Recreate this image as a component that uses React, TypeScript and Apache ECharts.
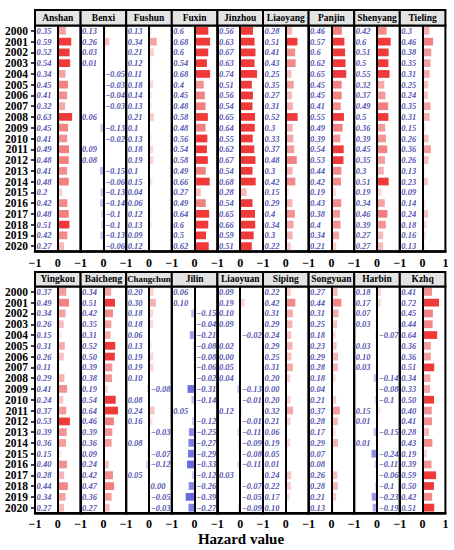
import { useEffect, useRef } from 'react';
import * as echarts from 'echarts';

const years = [
  '2000', '2001', '2002', '2003', '2004', '2005', '2006', '2007', '2008', '2009', '2010',
  '2011', '2012', '2013', '2014', '2015', '2016', '2017', '2018', '2019', '2020',
];

// values as printed in the figure (strings keep the printed format)
const anshan = ['0.35', '0.59', '0.52', '0.54', '0.34', '0.45', '0.41', '0.32', '0.63', '0.45', '0.41', '0.49', '0.48', '0.41', '0.48', '0.2', '0.42', '0.48', '0.51', '0.42', '0.27'];
const benxi = ['0.13', '0.26', '0.03', '0.01', '-0.05', '-0.03', '-0.04', '-0.03', '0.06', '-0.13', '-0.02', '0.09', '0.08', '-0.15', '-0.06', '-0.13', '-0.14', '-0.1', '-0.1', '-0.13', '-0.06'];
const fushun = ['0.13', '0.34', '0.21', '0.12', '0.11', '0.18', '0.14', '0.13', '0.21', '0.1', '0.13', '0.18', '0.19', '0.1', '0.15', '0.04', '0.06', '0.12', '0.13', '0.09', '0.12'];
const fuxin = ['0.6', '0.68', '0.6', '0.54', '0.68', '0.4', '0.45', '0.48', '0.58', '0.48', '0.56', '0.54', '0.58', '0.49', '0.66', '0.27', '0.49', '0.64', '0.6', '0.5', '0.62'];
const jinzhou = ['0.56', '0.63', '0.67', '0.63', '0.74', '0.51', '0.56', '0.54', '0.65', '0.64', '0.55', '0.62', '0.67', '0.54', '0.68', '0.28', '0.54', '0.65', '0.66', '0.59', '0.51'];
const liaoyang = ['0.28', '0.51', '0.41', '0.43', '0.25', '0.35', '0.27', '0.31', '0.52', '0.3', '0.33', '0.37', '0.48', '0.3', '0.42', '0.15', '0.29', '0.4', '0.34', '0.3', '0.22'];
const panjin = ['0.46', '0.57', '0.6', '0.62', '0.65', '0.45', '0.45', '0.41', '0.55', '0.49', '0.39', '0.54', '0.53', '0.44', '0.42', '0.19', '0.43', '0.38', '0.4', '0.34', '0.21'];
const shenyang = ['0.42', '0.6', '0.51', '0.5', '0.55', '0.32', '0.37', '0.49', '0.5', '0.36', '0.39', '0.45', '0.35', '0.3', '0.51', '0.19', '0.34', '0.46', '0.39', '0.27', '0.27'];
const tieling = ['0.3', '0.46', '0.38', '0.35', '0.31', '0.25', '0.24', '0.35', '0.31', '0.15', '0.26', '0.36', '0.26', '0.13', '0.23', '0.09', '0.14', '0.24', '0.18', '0.16', '0.13'];

const yingkou = ['0.37', '0.49', '0.34', '0.26', '0.15', '0.31', '0.26', '0.11', '0.29', '0.41', '0.24', '0.37', '0.53', '0.39', '0.36', '0.15', '0.40', '0.28', '0.44', '0.34', '0.27'];
const baicheng = ['0.34', '0.51', '0.42', '0.35', '0.31', '0.52', '0.50', '0.39', '0.38', '0.19', '0.54', '0.64', '0.46', '0.39', '0.36', '0.09', '0.24', '0.42', '0.47', '0.36', '0.27'];
const changchun = ['0.20', '0.30', '0.18', '0.18', '0.06', '0.13', '0.19', '0.19', '0.10', '-0.08', '0.08', '0.24', '0.16', '-0.03', '0.08', '-0.07', '-0.12', '0.05', '-0.00', '-0.05', '-0.03'];
const jilin = ['0.06', '0.10', '-0.15', '-0.04', '-0.21', '-0.08', '-0.08', '-0.06', '-0.02', '-0.31', '-0.14', '0.05', '-0.12', '-0.25', '-0.27', '-0.29', '-0.33', '-0.12', '-0.26', '-0.39', '-0.27'];
const liaoyuan = ['0.09', '0.19', '0.10', '0.09', '-0.02', '0.02', '0.00', '0.05', '0.04', '-0.13', '-0.01', '0.12', '-0.01', '-0.11', '-0.09', '-0.08', '-0.11', '0.03', '-0.07', '-0.05', '-0.09'];
const siping = ['0.22', '0.42', '0.31', '0.29', '0.24', '0.29', '0.25', '0.31', '0.20', '0.00', '0.20', '0.32', '0.21', '0.06', '0.19', '0.05', '0.01', '0.24', '0.22', '0.17', '0.10'];
const songyuan = ['0.27', '0.44', '0.31', '0.25', '0.18', '0.23', '0.29', '0.28', '0.18', '0.04', '0.21', '0.37', '0.28', '0.17', '0.29', '0.07', '0.08', '0.26', '0.28', '0.21', '0.13'];
const harbin = ['0.18', '0.17', '0.07', '0.03', '-0.07', '0.03', '0.10', '0.03', '-0.14', '-0.08', '-0.1', '0.15', '0.01', '-0.15', '0.01', '-0.24', '-0.11', '-0.06', '-0.1', '-0.23', '-0.19'];
const kzhq = ['0.41', '0.72', '0.45', '0.44', '0.64', '0.36', '0.36', '0.51', '0.34', '0.33', '0.50', '0.40', '0.41', '0.28', '0.43', '0.19', '0.39', '0.59', '0.50', '0.42', '0.51'];

const topRow: [string, string[]][] = [
  ['Anshan', anshan], ['Benxi', benxi], ['Fushun', fushun], ['Fuxin', fuxin], ['Jinzhou', jinzhou],
  ['Liaoyang', liaoyang], ['Panjin', panjin], ['Shenyang', shenyang], ['Tieling', tieling],
];
const bottomRow: [string, string[]][] = [
  ['Yingkou', yingkou], ['Baicheng', baicheng], ['Changchun', changchun], ['Jilin', jilin], ['Liaoyuan', liaoyuan],
  ['Siping', siping], ['Songyuan', songyuan], ['Harbin', harbin], ['Kzhq', kzhq],
];

const FONT = '"Liberation Serif", "DejaVu Serif", serif';
const LEFT = 35;
const PANEL_W = 45.6;
const rows = [
  { top: 25.5, height: 226, titleTop: 10, panels: topRow },
  { top: 286.5, height: 226.5, titleTop: 272, panels: bottomRow },
];

const isNeg = (s: string) => s.trim().startsWith('-');

function mix(rgb: number[], t: number) {
  const c = Math.max(0, Math.min(1, t));
  const [r, g, b] = rgb.map((x) => Math.round(255 - (255 - x) * c));
  return `rgb(${r},${g},${b})`;
}

function barColor(v: number) {
  if (v >= 0.5) return '#f03a3a';
  if (v >= 0) return mix([242, 128, 128], Math.pow(Math.max(0, (v - 0.1) / 0.36), 0.8));
  return mix([105, 105, 225], (-v - 0.02) / 0.3);
}

function labelText(s: string) {
  const t = Number(s) === 0 ? s.replace('-', '') : s;
  return t.replace('-', '\u2212');
}

export default function App() {
  const chartRef = useRef<HTMLDivElement>(null);

  useEffect(() => {
    if (!chartRef.current) return;
    const chart = echarts.init(chartRef.current, null, { renderer: 'svg' });

    const grids: any[] = [];
    const xAxes: any[] = [];
    const yAxes: any[] = [];
    const series: any[] = [];
    const graphic: any[] = [];

    rows.forEach((row) => {
      row.panels.forEach(([name, vals], i) => {
        const k = grids.length;
        const left = LEFT + i * PANEL_W;
        grids.push({
          left,
          top: row.top,
          width: PANEL_W,
          height: row.height,
          show: true,
          borderColor: '#000',
          borderWidth: 2,
        });
        xAxes.push({
          type: 'value',
          gridIndex: k,
          min: -1,
          max: 1,
          interval: 1,
          axisLine: { show: true, onZero: false, lineStyle: { color: '#000', width: 2.5 } },
          axisTick: { show: false },
          splitLine: { show: false },
          axisLabel: {
            showMaxLabel: i === row.panels.length - 1,
            showMinLabel: true,
            margin: 5,
            color: '#000',
            fontSize: 12,
            fontWeight: 'bold',
            fontFamily: FONT,
            formatter: (v: number) => (v < 0 ? '\u2212' + Math.abs(v) : String(v)),
          },
        });
        yAxes.push({
          type: 'category',
          gridIndex: k,
          data: years,
          inverse: true,
          axisLine: { show: true, onZero: false, lineStyle: { color: '#000', width: 2 } },
          axisTick: {
            show: i === 0,
            interval: 0,
            alignWithLabel: true,
            length: 4,
            lineStyle: { color: '#000', width: 1.5 },
          },
          axisLabel: {
            show: i === 0,
            interval: 0,
            margin: 7,
            color: '#000',
            fontSize: 11.5,
            fontWeight: 'bold',
            fontFamily: FONT,
          },
        });
        series.push({
          type: 'bar',
          xAxisIndex: k,
          yAxisIndex: k,
          barWidth: '72%',
          data: vals.map((s) => ({ value: Number(s), itemStyle: { color: barColor(Number(s)) } })),
          markLine: {
            silent: true,
            symbol: 'none',
            label: { show: false },
            lineStyle: { color: '#000', width: 2, type: 'solid' },
            data: [{ xAxis: 0 }],
          },
        });
        series.push({
          type: 'scatter',
          xAxisIndex: k,
          yAxisIndex: k,
          symbolSize: 1,
          itemStyle: { color: 'rgba(0,0,0,0)' },
          z: 5,
          data: vals.map((s, j) => ({ value: [isNeg(s) ? 0 : -1, j], text: labelText(s) })),
          label: {
            show: true,
            position: 'right',
            distance: 1,
            formatter: (p: any) => p.data.text,
            color: '#1e1e9e',
            fontSize: 8.5,
            fontStyle: 'italic',
            fontWeight: 'bold',
            fontFamily: FONT,
          },
        });
        graphic.push({
          type: 'rect',
          shape: { x: left, y: row.titleTop, width: PANEL_W, height: row.top - row.titleTop },
          style: { fill: '#e4e4e4', stroke: '#000', lineWidth: 2 },
          z: 10,
        });
        graphic.push({
          type: 'text',
          x: left + PANEL_W / 2,
          y: (row.titleTop + row.top) / 2,
          style: {
            text: name,
            align: 'center',
            verticalAlign: 'middle',
            fill: '#000',
            font: `bold ${name.length > 8 ? 8.8 : 9.5}px ${FONT}`,
          },
          z: 11,
        });
      });
    });

    graphic.push({
      type: 'text',
      x: 241,
      y: 539,
      style: {
        text: 'Hazard value',
        align: 'center',
        verticalAlign: 'middle',
        fill: '#000',
        font: `bold 15px ${FONT}`,
      },
    });

    chart.setOption({
      animation: false,
      backgroundColor: '#fff',
      grid: grids,
      xAxis: xAxes,
      yAxis: yAxes,
      series,
      graphic,
    });

    return () => {
      chart.dispose();
    };
  }, []);

  return (
    <div
      ref={chartRef}
      style={{ position: 'absolute', left: 0, top: 0, width: 454, height: 550 }}
    />
  );
}
